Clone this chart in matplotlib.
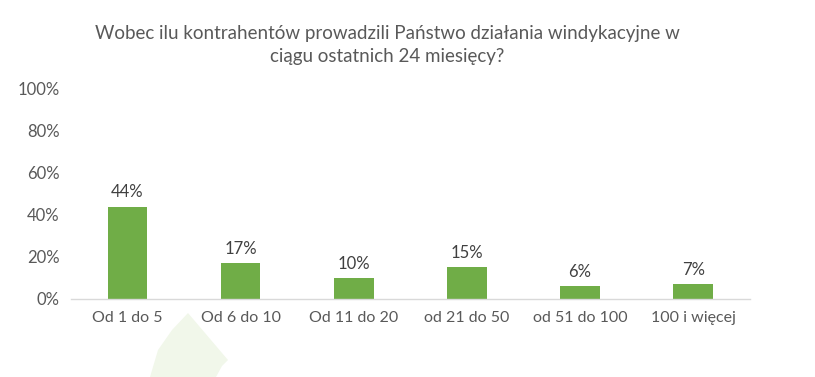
import matplotlib
matplotlib.use("Agg")
import matplotlib.pyplot as plt
from matplotlib.patches import Polygon

# data
categories = ["Od 1 do 5", "Od 6 do 10", "Od 11 do 20", "od 21 do 50", "od 51 do 100", "100 i więcej"]
values = [44, 17, 10, 15, 6, 7]
yticks = [0, 20, 40, 60, 80, 100]
title = "Wobec ilu kontrahentów prowadzili Państwo działania windykacyjne w\nciągu ostatnich 24 miesięcy?"

plt.rcParams['font.family'] = ['Lato', 'DejaVu Sans']

fig = plt.figure(figsize=(8.15, 3.77), dpi=100)
ax = fig.add_axes([0.087, 0.207, 0.833, 0.557])

# faint decorative shape at the bottom
W, H = 815, 377
pts = [(150, 377), (158, 350), (172, 330), (188, 313), (228, 360), (222, 366), (216, 377)]
fig.patches.append(Polygon([(x / W, 1 - y / H) for x, y in pts], closed=True,
                           transform=fig.transFigure, facecolor="#F1F7EA", edgecolor="none", zorder=0))

x = range(len(categories))
bars = ax.bar(x, values, width=0.35, color="#70AD47", zorder=2)
for xi, v in zip(x, values):
    ax.text(xi, v + 3, f"{v}%", ha="center", va="bottom", fontsize=12, color="#404040")

ax.set_xlim(-0.5, len(categories) - 0.5)
ax.set_ylim(0, 100)
ax.set_yticks(yticks)
ax.set_yticklabels([f"{t}%" for t in yticks])
ax.set_xticks(list(x))
ax.set_xticklabels(categories)
ax.tick_params(axis="both", length=0, colors="#595959")
ax.tick_params(axis="y", pad=8, labelsize=12)
ax.tick_params(axis="x", pad=9, labelsize=11.5)
for s in ["top", "right", "left"]:
    ax.spines[s].set_visible(False)
ax.spines["bottom"].set_color("#D9D9D9")
ax.spines["bottom"].set_linewidth(1)
ax.patch.set_alpha(0)

fig.text(0.475, 0.935, title, ha="center", va="top", fontsize=13.5, color="#595959", linespacing=1.45)

fig.savefig("out.png", dpi=100)
